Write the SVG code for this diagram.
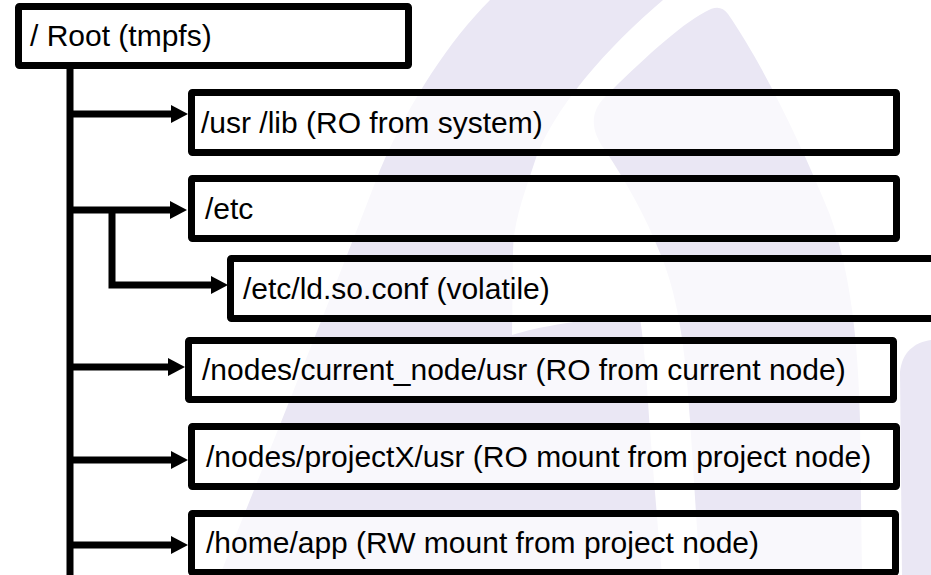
<svg xmlns="http://www.w3.org/2000/svg" width="931" height="575" viewBox="0 0 931 575">
  <style>
    .wm { fill: #eae7f4; stroke: none; }
    .box { fill: #ffffff; fill-opacity: 0.7; stroke: #000000; stroke-width: 7; stroke-linejoin: round; }
    .label { font-family: "Liberation Sans", Arial, sans-serif; font-size: 30px; fill: #000000; }
    .wire { fill: none; stroke: #000000; stroke-width: 7; stroke-linecap: butt; stroke-linejoin: miter; }
  </style>
  <defs>
    <marker id="ah" markerUnits="userSpaceOnUse" viewBox="0 0 17 18" markerWidth="17" markerHeight="18" refX="7" refY="9" orient="auto">
      <path d="M0,0 L17,9 L0,18 Z" fill="#000000"/>
    </marker>
  </defs>

  <rect x="0" y="0" width="931" height="575" fill="#ffffff"/>

  <!-- faint background emblem -->
  <g id="watermark">
    <path class="wm" d="M490,0 L663,0 C610,45 550,110 533,167 C522,200 513,225 513,253 L512,335 C540,326 600,316 640,318 C645,350 648,400 650,430 C654,480 658,530 662,575 L220,575 C270,450 330,300 380,170 C410,100 450,40 490,0 Z"/>
    <path class="wm" d="M700,575 L690,420 C686,360 680,300 660,253 C645,215 625,180 605,150 C590,130 590,112 605,97 C640,62 680,25 705,12 C715,6 722,6 728,14 C760,60 800,140 830,215 C848,265 858,330 860,420 L862,575 Z"/>
    <path class="wm" d="M931,340 C915,342 902,352 900,372 L902,575 L931,575 Z"/>
  </g>

  <g id="connectors">
    <path class="wire" d="M70,69 V575"/>
    <path class="wire" d="M70,114 H178" marker-end="url(#ah)"/>
    <path class="wire" d="M70,210 H177" marker-end="url(#ah)"/>
    <path class="wire" d="M112,210 V285 H218" marker-end="url(#ah)"/>
    <path class="wire" d="M70,367 H175" marker-end="url(#ah)"/>
    <path class="wire" d="M70,460 H178" marker-end="url(#ah)"/>
    <path class="wire" d="M70,545 H178" marker-end="url(#ah)"/>
  </g>

  <g id="root">
    <rect class="box" x="18.5" y="6.5" width="390" height="59" rx="1"/>
    <text class="label" x="30" y="46">/ Root (tmpfs)</text>
  </g>

  <g id="usr-lib">
    <rect class="box" x="191.5" y="92.5" width="705" height="60" rx="1"/>
    <text class="label" x="201" y="132.5">/usr /lib (RO from system)</text>
  </g>

  <g id="etc">
    <rect class="box" x="191.5" y="178.5" width="705" height="60" rx="1"/>
    <text class="label" x="205" y="218.5">/etc</text>
  </g>

  <g id="ld-so-conf">
    <rect class="box" x="230.5" y="258.5" width="740" height="60" rx="1"/>
    <text class="label" x="243" y="298.5">/etc/ld.so.conf (volatile)</text>
  </g>

  <g id="current-node">
    <rect class="box" x="188.5" y="340.5" width="705" height="59" rx="1"/>
    <text class="label" x="202" y="380">/nodes/current_node/usr (RO from current node)</text>
  </g>

  <g id="projectx">
    <rect class="box" x="191.5" y="426.5" width="705" height="60" rx="1"/>
    <text class="label" x="206" y="466.5">/nodes/projectX/usr (RO mount from project node)</text>
  </g>

  <g id="home-app">
    <rect class="box" x="191.5" y="513.5" width="704" height="59" rx="1"/>
    <text class="label" x="206" y="553">/home/app (RW mount from project node)</text>
  </g>
</svg>
